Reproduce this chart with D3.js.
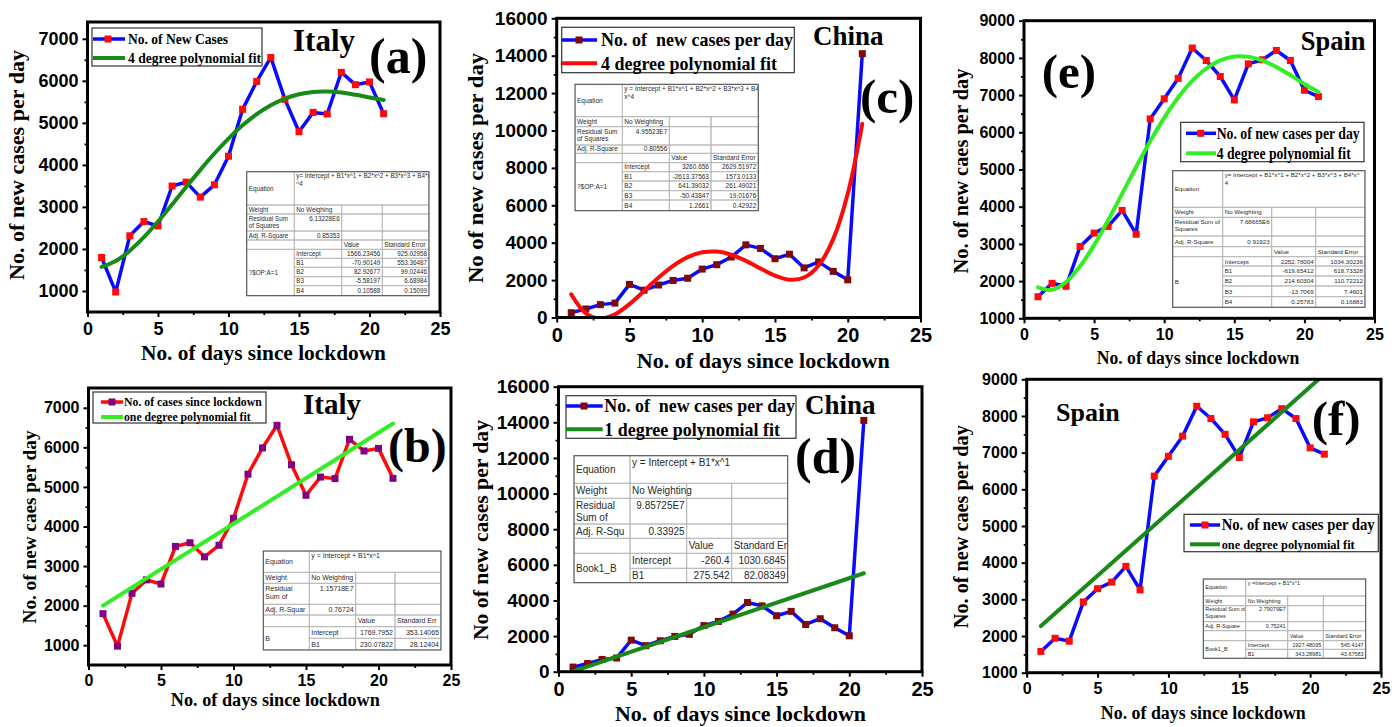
<!DOCTYPE html>
<html><head><meta charset="utf-8">
<script src="https://cdn.jsdelivr.net/npm/d3@7"></script>
<style>
body{margin:0;background:#fff}
svg{display:block}
</style></head><body>
<svg id="c" width="1400" height="727"></svg>
<script>
// ---------------- DATA ----------------
const days = [1,2,3,4,5,6,7,8,9,10,11,12,13,14,15,16,17,18,19,20,21];
const italyCases = [1797,977,2313,2651,2547,3497,3590,3233,3526,4207,5322,5986,6557,5560,4789,5249,5210,6203,5909,5974,5217];
const chinaCases = [259,457,688,769,1771,1459,1737,1981,2099,2589,2825,3235,3884,3694,3143,3385,2652,2973,2467,2015,14108];
const spainCases = [1580,1940,1860,2930,3290,3470,3900,3260,6360,6900,7450,8265,7930,7500,6870,7840,7950,8200,7930,7130,6960];

const italyPoly4Fit = [1573,1713,1958,2279,2653,3058,3473,3882,4271,4627,4941,5207,5420,5578,5682,5736,5746,5720,5667,5604,5545];
const chinaPoly4Fit = [1240,216,-66,166,715,1417,2135,2764,3230,3489,3525,3357,3030,2621,2239,2022,2137,2783,4189,6618,10355];
const spainPoly4Fit = [1834,1766,1976,2397,2967,3634,4348,5068,5758,6388,6935,7381,7715,7933,8036,8030,7931,7758,7536,7299,7083];

const linFitDays = [1, 21];
const italyLinFit = [2000, 6602];
const chinaLinFit = [15, 5526];
const spainLinFit = [2271, 9137];

const xTicks = [0,5,10,15,20,25];
const xMinorTicks = [2.5,7.5,12.5,17.5,22.5];
const italyYTicks = [1000,2000,3000,4000,5000,6000,7000];
const italyYMinor = [1500,2500,3500,4500,5500,6500];
const chinaYTicks = [0,2000,4000,6000,8000,10000,12000,14000,16000];
const chinaYMinor = [1000,3000,5000,7000,9000,11000,13000,15000];
const spainYTicks = [1000,2000,3000,4000,5000,6000,7000,8000,9000];
const spainYMinor = [1500,2500,3500,4500,5500,6500,7500,8500];

const xTitle = "No. of days since lockdown";
const yTitles = ["No. of new cases per day","No. of new caes per day","No of new cases per day","No of new cases per day","No. of new caes per day","No. of new caes per day"];
const countries = ["Italy","Italy","China","China","Spain","Spain"];
const tags = ["(a)","(b)","(c)","(d)","(e)","(f)"];
const legendA = ["No. of New Cases","4 degree polynomial fit"];
const legendB = ["No. of cases since lockdown","one degree polynomial fit"];
const legendC = ["No. of  new cases per day","4 degree polynomial fit"];
const legendD = ["No. of  new cases per day","1 degree polynomial fit"];
const legendE = ["No. of new cases per day","4 degree polynomial fit"];
const legendF = ["No. of new cases per day","one degree polynomial fit"];

// fit tables
const poly4Params = ["Intercept","B1","B2","B3","B4"];
const linParams = ["Intercept","B1"];
const tabA_eq = ["y= Intercept + B1*x^1 + B2*x^2 + B3*x^3 + B4*x","^4"];
const tabA_labels = ["Equation","Weight",["Residual Sum","of Squares"],"Adj. R-Square"];
const tabA_stats = ["No Weighing","6.13228E6","0.85353"];
const tabA_heads = ["Value","Standard Error"];
const tabA_group = "?$OP:A=1";
const tabA_values = ["1566.23456","-70.90149","82.92677","-5.58197","0.10588"];
const tabA_errors = ["925.02958","553.36487","99.02446","6.68984","0.15099"];

const tabB_eq = ["y = Intercept + B1*x^1"];
const tabB_labels = ["Equation","Weight",["Residual","Sum of"],"Adj. R-Squar"];
const tabB_stats = ["No Weighting","1.15718E7","0.76724"];
const tabB_heads = ["Value","Standard Err"];
const tabB_group = "B";
const tabB_values = ["1769.7952","230.07822"];
const tabB_errors = ["353.14065","28.12404"];

const tabC_eq = ["y = Intercept + B1*x^1  + B2*x^2 + B3*x^3 + B4*","x^4"];
const tabC_labels = ["Equation","Weight",["Residual Sum","of Squares"],"Adj. R-Square"];
const tabC_stats = ["No Weighting","4.95523E7","0.80556"];
const tabC_heads = ["Value","Standard Error"];
const tabC_group = "?$OP:A=1";
const tabC_values = ["3260.656","-2613.37563","641.39032","-50.43847","1.2661"];
const tabC_errors = ["2629.51972","1573.0133","261.49021","19.01676","0.42922"];

const tabD_eq = ["y = Intercept + B1*x^1"];
const tabD_labels = ["Equation","Weight",["Residual","Sum of"],"Adj. R-Squ"];
const tabD_stats = ["No Weighting","9.85725E7","0.33925"];
const tabD_heads = ["Value","Standard Er"];
const tabD_group = "Book1_B";
const tabD_values = ["-260.4","275.542"];
const tabD_errors = ["1030.6845","82.08349"];

const tabE_eq = ["y= Intercept + B1*x^1 + B2*x^2 + B3*x^3 + B4*x^","4"];
const tabE_labels = ["Equation","Weight",["Residual Sum of","Squares"],"Adj. R-Square"];
const tabE_stats = ["No Weighting","7.68665E6","0.91923"];
const tabE_heads = ["Value","Standard Error"];
const tabE_group = "B";
const tabE_values = ["2252.78004","-619.65412","214.60304","-13.7069","0.25783"];
const tabE_errors = ["1034.30236","618.73328","110.72212","7.4601","0.16883"];

const tabF_eq = ["y =Intercept + B1*x^1"];
const tabF_labels = ["Equation","Weight",["Residual Sum of","Squares"],"Adj. R-Square"];
const tabF_stats = ["No Weighting","2.79079E7","0.75241"];
const tabF_heads = ["Value","Standard Error"];
const tabF_group = "Book1_B";
const tabF_values = ["1927.48095","343.28981"];
const tabF_errors = ["545.4147","43.67583"];

// ---------------- LAYOUT / STYLE ----------------
const BLUE = "#0a0aff", RED = "#ff0a0a", DKGREEN = "#178a17", LIME = "#33ee22", WINE = "#7f0a0a", PURPLE = "#820082";
const SERIF = "'Liberation Serif','Times New Roman',serif";
const SANS = "'Liberation Sans',Arial,sans-serif";

const panels = [
 {id:"a", left:87.5, right:440, top:22, bottom:312, yDomain:[500,7400], yTicks:italyYTicks, yMinor:italyYMinor, yFs:18, xFs:18,
  cases:italyCases, fitX:days, fitY:italyPoly4Fit, curved:true, lineColor:BLUE, markColor:RED, fitColor:DKGREEN,
  yT:{x:24, y:165, fs:22, len:230}, xT:{x:263.5, y:359.5, fs:21, len:245},
  ct:{x:293, y:51, fs:31}, tg:{x:369, y:73, fs:50},
  lg:{x:92, y:28, w:170, h:38, rows:[39,58], sx1:93, sx2:125, mx:108, tx:128, fs:[15,15], lens:[100,133], labels:legendA},
  tb:{cols:[246.7,294.3,341.7,382.3,429], rows:[171.7,205,214,231,240,249.3,258.3,267.3,276.7,285.7,295.7], fs:6.3,
      eq:tabA_eq, labels:tabA_labels, stats:tabA_stats, heads:tabA_heads, group:tabA_group, params:poly4Params, values:tabA_values, errors:tabA_errors}},
 {id:"b", left:88.5, right:451, top:388, bottom:665, yDomain:[500,7500], yTicks:italyYTicks, yMinor:italyYMinor, yFs:16, xFs:16,
  cases:italyCases, fitX:linFitDays, fitY:italyLinFit, curved:false, lineColor:RED, markColor:PURPLE, fitColor:LIME,
  yT:{x:36, y:527, fs:19, len:193}, xT:{x:275.3, y:706, fs:18, len:209},
  ct:{x:303, y:414, fs:29}, tg:{x:388, y:462, fs:48},
  lg:{x:93, y:392, w:173, h:31, rows:[402,417], sx1:101, sx2:123, mx:112, tx:124, fs:[13,13], lens:[137.7,126.7], labels:legendB},
  tb:{cols:[263.3,309.3,355.7,395,441], rows:[551,572.3,583.3,604.3,615,626.7,638.3,650], fs:7,
      eq:tabB_eq, labels:tabB_labels, stats:tabB_stats, heads:tabB_heads, group:tabB_group, params:linParams, values:tabB_values, errors:tabB_errors}},
 {id:"c", left:556.7, right:920.5, top:18.3, bottom:317.5, yDomain:[0,16000], yTicks:chinaYTicks, yMinor:chinaYMinor, yFs:19, xFs:20,
  cases:chinaCases, fitX:days, fitY:chinaPoly4Fit, curved:true, lineColor:BLUE, markColor:WINE, fitColor:RED,
  yT:{x:483, y:168, fs:22, len:230}, xT:{x:763.3, y:368, fs:22, len:253},
  ct:{x:813, y:45, fs:27}, tg:{x:860, y:113, fs:49},
  lg:{x:561.7, y:27.3, w:232.6, h:45.4, rows:[40,63.3], sx1:562, sx2:597, mx:579, tx:601, fs:[19,19], lens:[192,176], labels:legendC},
  tb:{cols:[575,622.3,669.3,711,758.3], rows:[84.3,116.7,126.7,145,153.3,162.7,171.7,181,190.7,200,210.7], fs:6.5,
      eq:tabC_eq, labels:tabC_labels, stats:tabC_stats, heads:tabC_heads, group:tabC_group, params:poly4Params, values:tabC_values, errors:tabC_errors}},
 {id:"d", left:558.5, right:922, top:386.7, bottom:671.7, yDomain:[0,16000], yTicks:chinaYTicks, yMinor:chinaYMinor, yFs:19, xFs:20,
  cases:chinaCases, fitX:linFitDays, fitY:chinaLinFit, curved:false, lineColor:BLUE, markColor:WINE, fitColor:DKGREEN,
  yT:{x:488, y:530, fs:21.6, len:220}, xT:{x:740.5, y:721, fs:22, len:251},
  ct:{x:805, y:413.5, fs:27}, tg:{x:795, y:472.7, fs:50},
  lg:{x:566, y:395.7, w:230, h:42.6, rows:[406,429.3], sx1:566, sx2:602.7, mx:584, tx:604.3, fs:[19,19], lens:[190.7,175.7], labels:legendD},
  tb:{cols:[574,630,686.7,731.7,787.7], rows:[455.7,483.3,498.3,524,538.3,553.3,568.3,582.7], fs:10,
      eq:tabD_eq, labels:tabD_labels, stats:tabD_stats, heads:tabD_heads, group:tabD_group, params:linParams, values:tabD_values, errors:tabD_errors}},
 {id:"e", left:1024, right:1374.5, top:20.7, bottom:318.3, yDomain:[1000,9000], yTicks:spainYTicks, yMinor:spainYMinor, yFs:16, xFs:16,
  cases:spainCases, fitX:days, fitY:spainPoly4Fit, curved:true, lineColor:BLUE, markColor:RED, fitColor:LIME,
  yT:{x:968, y:171, fs:20.4, len:205}, xT:{x:1198, y:363.6, fs:18, len:202.7},
  ct:{x:1300.7, y:50, fs:26.5}, tg:{x:1041.7, y:88, fs:49},
  lg:{x:1180.7, y:122.3, w:183.3, h:39.4, rows:[133.3,153.3], sx1:1186, sx2:1216, mx:1200.7, tx:1216.7, fs:[16,16], lens:[143,134], labels:legendE},
  tb:{cols:[1172.7,1222.7,1271.7,1315.7,1365], rows:[170.7,207.3,217.3,236,246.7,256.7,266,276,286,296.7,307.3], fs:6.2,
      eq:tabE_eq, labels:tabE_labels, stats:tabE_stats, heads:tabE_heads, group:tabE_group, params:poly4Params, values:tabE_values, errors:tabE_errors}},
 {id:"f", left:1026.7, right:1381, top:379.3, bottom:672.7, yDomain:[1000,9000], yTicks:spainYTicks, yMinor:spainYMinor, yFs:16, xFs:16,
  cases:spainCases, fitX:linFitDays, fitY:spainLinFit, curved:false, lineColor:BLUE, markColor:RED, fitColor:DKGREEN,
  yT:{x:968, y:526.7, fs:20.2, len:203}, xT:{x:1203.3, y:718.6, fs:18, len:205},
  ct:{x:1056, y:421, fs:26}, tg:{x:1311.7, y:435, fs:49},
  lg:{x:1184, y:514.3, w:194.3, h:37.4, rows:[525,544.3], sx1:1190, sx2:1220, mx:1205, tx:1221.7, fs:[16,13], lens:[153,133], labels:legendF},
  tb:{cols:[1203.3,1245.7,1287.7,1323.3,1365.7], rows:[579,596,605.7,621.7,630.7,640.7,649.3,658.3], fs:5.5,
      eq:tabF_eq, labels:tabF_labels, stats:tabF_stats, heads:tabF_heads, group:tabF_group, params:linParams, values:tabF_values, errors:tabF_errors}}
];

const svg = d3.select("#c");
const defs = svg.append("defs");
const MS = 7; // marker size

function styleAxis(sel, fs, width) {
  sel.select(".domain").remove();
  sel.selectAll(".tick line").attr("stroke", "#000").attr("stroke-width", width);
  sel.selectAll(".tick text").attr("fill", "#000").attr("font-family", SANS)
     .attr("font-weight", "bold").attr("font-size", fs);
}

function drawTable(t) {
  const g = svg.append("g");
  const cx = t.cols, ry = t.rows, fs = t.fs, lh = fs * 1.18;
  const n = t.params.length;
  const cells = [];
  const add = (r, c, rs, cs, lines, align, valign) => cells.push({r, c, rs, cs, lines, align, valign});
  add(0,0,1,1,[t.labels[0]],"start","middle");
  add(0,1,1,3,t.eq,"start","top");
  add(1,0,1,1,[t.labels[1]],"start","middle");
  add(1,1,1,1,[t.stats[0]],"start","middle");
  add(1,2,1,1,[],"start","middle"); add(1,3,1,1,[],"start","middle");
  add(2,0,1,1,t.labels[2],"start","top");
  add(2,1,1,1,[t.stats[1]],"end","top");
  add(2,2,1,1,[],"start","top"); add(2,3,1,1,[],"start","top");
  add(3,0,1,1,[t.labels[3]],"start","middle");
  add(3,1,1,1,[t.stats[2]],"end","middle");
  add(3,2,1,1,[],"start","middle"); add(3,3,1,1,[],"start","middle");
  add(4,0,1,1,[],"start","middle"); add(4,1,1,1,[],"start","middle");
  add(4,2,1,1,[t.heads[0]],"start","middle"); add(4,3,1,1,[t.heads[1]],"start","middle");
  add(5,0,n,1,[t.group],"start","middle");
  t.params.forEach((p, i) => {
    add(5+i,1,1,1,[p],"start","middle");
    add(5+i,2,1,1,[t.values[i]],"end","middle");
    add(5+i,3,1,1,[t.errors[i]],"end","middle");
  });
  const id = "tclip" + cx[0];
  defs.append("clipPath").attr("id", id).append("rect")
    .attr("x", cx[0]).attr("y", ry[0]).attr("width", cx[4]-cx[0]).attr("height", ry[ry.length-1]-ry[0]);
  g.append("rect").attr("x", cx[0]).attr("y", ry[0]).attr("width", cx[4]-cx[0])
    .attr("height", ry[ry.length-1]-ry[0]).attr("fill", "#fff");
  const tg = g.append("g").attr("clip-path", `url(#${id})`);
  cells.forEach(c => {
    const x0 = cx[c.c], x1 = cx[c.c + c.cs], y0 = ry[c.r], y1 = ry[c.r + c.rs];
    tg.append("rect").attr("x", x0).attr("y", y0).attr("width", x1-x0).attr("height", y1-y0)
      .attr("fill", "none").attr("stroke", "#b8b8b8").attr("stroke-width", 0.9);
    const tx = c.align === "start" ? x0 + 2 : x1 - 2;
    let by;
    if (c.valign === "top") by = y0 + fs * 1.05;
    else by = (y0 + y1) / 2 + fs * 0.35 - (c.lines.length - 1) * lh / 2;
    c.lines.forEach((ln, k) => {
      tg.append("text").attr("x", tx).attr("y", by + k * lh).attr("text-anchor", c.align)
        .attr("font-family", SANS).attr("font-size", fs).attr("fill", "#2a2a2a").text(ln);
    });
  });
  g.append("rect").attr("x", cx[0]).attr("y", ry[0]).attr("width", cx[4]-cx[0])
    .attr("height", ry[ry.length-1]-ry[0]).attr("fill", "none").attr("stroke", "#505050").attr("stroke-width", 1.1);
}

panels.forEach((p, pi) => {
  const x = d3.scaleLinear().domain([0, 25]).range([p.left, p.right]);
  const y = d3.scaleLinear().domain(p.yDomain).range([p.bottom, p.top]);
  const g = svg.append("g");
  const clipId = "clip-" + p.id;
  defs.append("clipPath").attr("id", clipId).append("rect")
    .attr("x", p.left).attr("y", p.top).attr("width", p.right - p.left).attr("height", p.bottom - p.top);

  // axes: minor then major
  g.append("g").attr("transform", `translate(${p.left},0)`)
    .call(d3.axisLeft(y).tickValues(p.yMinor).tickSize(3).tickFormat(""))
    .call(s => styleAxis(s, p.yFs, 1.8));
  g.append("g").attr("transform", `translate(0,${p.bottom})`)
    .call(d3.axisBottom(x).tickValues(xMinorTicks).tickSize(3).tickFormat(""))
    .call(s => styleAxis(s, p.xFs, 1.8));
  g.append("g").attr("transform", `translate(${p.left},0)`)
    .call(d3.axisLeft(y).tickValues(p.yTicks).tickSize(5).tickPadding(4).tickFormat(d3.format("d")))
    .call(s => styleAxis(s, p.yFs, 2));
  g.append("g").attr("transform", `translate(0,${p.bottom})`)
    .call(d3.axisBottom(x).tickValues(xTicks).tickSize(5).tickPadding(5).tickFormat(d3.format("d")))
    .call(s => styleAxis(s, p.xFs, 2));

  // data series
  const pts = days.map((d, i) => [d, p.cases[i]]);
  const ln = d3.line().x(d => x(d[0])).y(d => y(d[1]));
  const plot = g.append("g").attr("clip-path", `url(#${clipId})`);
  plot.append("path").datum(pts).attr("d", ln).attr("fill", "none")
    .attr("stroke", p.lineColor).attr("stroke-width", 3.5).attr("stroke-linejoin", "round");
  plot.selectAll("rect.mk").data(pts).join("rect").attr("class", "mk")
    .attr("x", d => x(d[0]) - MS/2).attr("y", d => y(d[1]) - MS/2)
    .attr("width", MS).attr("height", MS).attr("fill", p.markColor);
  // fit
  const fitPts = p.fitX.map((d, i) => [d, p.fitY[i]]);
  const fl = d3.line().x(d => x(d[0])).y(d => y(d[1]));
  if (p.curved) fl.curve(d3.curveCatmullRom.alpha(0.5));
  plot.append("path").datum(fitPts).attr("d", fl).attr("fill", "none")
    .attr("stroke", p.fitColor).attr("stroke-width", 4).attr("stroke-linecap", "round");

  // frame
  g.append("rect").attr("x", p.left).attr("y", p.top).attr("width", p.right - p.left)
    .attr("height", p.bottom - p.top).attr("fill", "none").attr("stroke", "#000").attr("stroke-width", 3);

  // titles
  g.append("text").attr("transform", `translate(${p.yT.x},${p.yT.y}) rotate(-90)`)
    .attr("text-anchor", "middle").attr("font-family", SERIF).attr("font-weight", "bold")
    .attr("font-size", p.yT.fs).attr("textLength", p.yT.len).attr("lengthAdjust", "spacingAndGlyphs")
    .text(yTitles[pi]);
  g.append("text").attr("x", p.xT.x).attr("y", p.xT.y)
    .attr("text-anchor", "middle").attr("font-family", SERIF).attr("font-weight", "bold")
    .attr("font-size", p.xT.fs).attr("textLength", p.xT.len).attr("lengthAdjust", "spacingAndGlyphs")
    .text(xTitle);
  g.append("text").attr("x", p.ct.x).attr("y", p.ct.y).attr("font-family", SERIF)
    .attr("font-weight", "bold").attr("font-size", p.ct.fs).text(countries[pi]);
  g.append("text").attr("x", p.tg.x).attr("y", p.tg.y).attr("font-family", SERIF)
    .attr("font-weight", "bold").attr("font-size", p.tg.fs).text(tags[pi]);

  // legend
  const L = p.lg;
  const lg = g.append("g");
  lg.append("rect").attr("x", L.x).attr("y", L.y).attr("width", L.w).attr("height", L.h)
    .attr("fill", "#fff").attr("stroke", "#333").attr("stroke-width", 1.2);
  lg.append("line").attr("x1", L.sx1).attr("x2", L.sx2).attr("y1", L.rows[0]).attr("y2", L.rows[0])
    .attr("stroke", p.lineColor).attr("stroke-width", 3.5);
  lg.append("rect").attr("x", L.mx - MS/2).attr("y", L.rows[0] - MS/2).attr("width", MS).attr("height", MS)
    .attr("fill", p.markColor);
  lg.append("line").attr("x1", L.sx1).attr("x2", L.sx2).attr("y1", L.rows[1]).attr("y2", L.rows[1])
    .attr("stroke", p.fitColor).attr("stroke-width", 4);
  L.labels.forEach((t, k) => {
    lg.append("text").attr("x", L.tx).attr("y", L.rows[k] + L.fs[k] * 0.33)
      .attr("font-family", SERIF).attr("font-weight", "bold").attr("font-size", L.fs[k])
      .attr("textLength", L.lens[k]).attr("lengthAdjust", "spacingAndGlyphs")
      .attr("xml:space", "preserve").text(t);
  });

  drawTable(p.tb);
});
</script>
</body></html>
